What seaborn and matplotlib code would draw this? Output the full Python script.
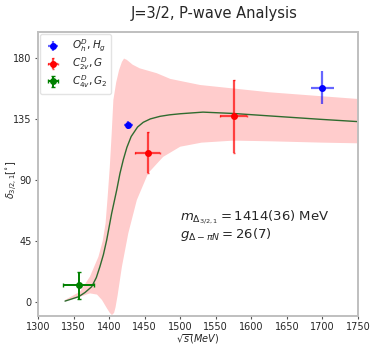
import numpy as np
import pandas as pd
import matplotlib
matplotlib.use("Agg")
import matplotlib.pyplot as plt
import seaborn as sns

# lattice points: (sqrt(s), delta) with errors
oh_x = [1427, 1700]
oh_y = [130.5, 158]
oh_xerr = [6, 16]
oh_yerr = [3, 12]

c2v_x = [1454, 1575]
c2v_y = [110, 137]
c2v_xerr = [18, 19]
c2v_yerr = [15, 27]

c4v_x = [1357]
c4v_y = [12.5]
c4v_xerr = [22]
c4v_yerr = [10]

# fitted phase shift curve
fit_x = [1338, 1347, 1357, 1366, 1375.5, 1382, 1387, 1392, 1396.6, 1403.6,
         1410.7, 1415.3, 1420, 1425, 1431, 1440, 1448, 1458, 1471.6, 1485,
         1500, 1532, 1575, 1626, 1697, 1750]
fit_y = [0.7, 2.2, 3.9, 7, 11.3, 18, 26, 35, 45.7, 65.4,
         82.6, 94.9, 105, 114, 122, 129, 132.5, 135, 136.9, 138,
         138.8, 140, 139, 137.2, 134.7, 133]

# error band
band_up_x = [1338, 1359, 1373, 1385, 1391, 1395, 1398, 1401, 1403.6, 1406, 1410,
             1414, 1418, 1421, 1425, 1433, 1443, 1467, 1486, 1528, 1626, 1750]
band_up_y = [1.5, 7.6, 18.7, 33.4, 45, 58, 78, 100, 124, 149, 162,
             171, 177, 179.5, 178.5, 175, 172.3, 168.7, 164.5, 160, 154.6, 149.7]
band_lo_x = [1338, 1359, 1373, 1383, 1390, 1397, 1401, 1404, 1407, 1409, 1412,
             1418, 1427, 1439, 1455, 1476, 1500, 1530, 1575, 1626, 1700, 1750]
band_lo_y = [0.5, 3.9, 6.4, 5.5, 1.5, -4.7, -8, -9.6, -8, -4, 5,
             26, 50.7, 75.2, 95, 107, 114.5, 117.5, 119, 118.5, 117.5, 117]

sns.set_style("white")

fig = plt.figure(figsize=(3.74, 3.45), dpi=100)
ax = fig.add_axes([0.1016, 0.084, 0.8556, 0.823])

# band
poly_x = np.concatenate([band_up_x, band_lo_x[::-1]])
poly_y = np.concatenate([band_up_y, band_lo_y[::-1]])
ax.fill(poly_x, poly_y, color="red", alpha=0.2, lw=0)

fit = pd.DataFrame({"x": fit_x, "y": fit_y})
sns.lineplot(data=fit, x="x", y="y", color="#2f6b2f", lw=1.0, ax=ax)

ax.errorbar(oh_x, oh_y, xerr=oh_xerr, yerr=oh_yerr, fmt="o", color="blue",
            ecolor=(0, 0, 1, 0.6), ms=4, elinewidth=1.6, capsize=0,
            label="$O_h^D, H_g$")
ax.errorbar(c2v_x, c2v_y, xerr=c2v_xerr, yerr=c2v_yerr, fmt="o", color="red",
            ecolor=(1, 0, 0, 0.7), ms=4, elinewidth=1.6, capsize=1,
            label="$C_{2v}^D, G$")
ax.errorbar(c4v_x, c4v_y, xerr=c4v_xerr, yerr=c4v_yerr, fmt="o", color="green",
            ecolor="green", ms=4, elinewidth=1.4, capsize=1.5,
            label="$C_{4v}^D, G_2$")

ax.text(1500, 56, "$m_{\\Delta_{3/2,1}} = 1414(36)$ MeV\n$g_{\\Delta-\\pi N} = 26(7)$",
        fontsize=9.5, va="center", linespacing=1.0)

ax.set_xlim(1300, 1750)
ax.set_ylim(-10.3, 199)
ax.set_xticks(np.arange(1300, 1751, 50))
ax.set_yticks([0, 45, 90, 135, 180])
ax.tick_params(labelsize=7, length=2.5, width=0.8, pad=2, color="#555555",
               left=True, bottom=True)
ax.set_xlabel(r"$\sqrt{s}(MeV)$", fontsize=7, labelpad=0)
ax.set_ylabel(r"$\delta_{3/2,1}[^{\circ}]$", fontsize=7)
ax.yaxis.set_label_coords(-0.056, 0.48)
for s in ax.spines.values():
    s.set_color("#bfbfbf")
    s.set_linewidth(1.4)

leg = ax.legend(loc="upper left", fontsize=7.5, frameon=True, handlelength=1.8,
                handletextpad=0.9, borderpad=0.35, labelspacing=0.1,
                borderaxespad=0.2)
leg.get_frame().set_edgecolor("#dddddd")

ax.set_title("J=3/2, P-wave Analysis", fontsize=10.5, x=0.55, pad=10)

fig.savefig("out.png", dpi=100)
